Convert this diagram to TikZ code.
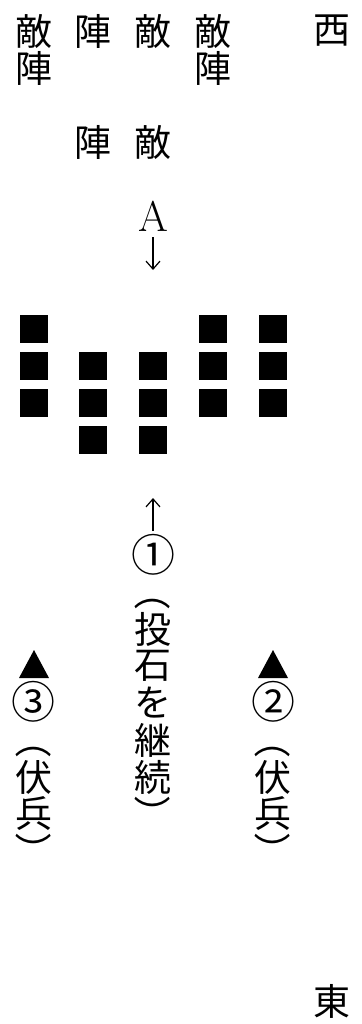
\documentclass[tikz,border=0pt]{standalone}
\usepackage{fontspec}
\newfontfamily\jpfont{Noto Sans CJK JP}
\usetikzlibrary{arrows.meta}
\tikzset{
  jch/.style={inner sep=0pt,font=\jpfont\fontsize{37}{37}\selectfont},
  jnum/.style={inner sep=0pt,font=\jpfont\fontsize{44}{44}\selectfont},
  jparen/.style={jch,rotate=-90},
  blk/.style={fill=black,minimum size=28pt,inner sep=0pt},
  latin/.style={inner sep=0pt,font=\fontsize{43}{43}\selectfont},
  thrust/.style={-{Straight Barb[length=8pt,width=14pt]},line width=1.2pt},
}

\begin{document}
\begin{tikzpicture}[x=1pt,y=-1pt]
  \useasboundingbox (0,0) rectangle (361,1024);
  % compass
  \node[jch] (west) at (332,31) {西};
  \node[jch] (east) at (332,1001) {東};
  % enemy camp labels
  \node[jch] (lab1a) at (34,31) {敵};
  \node[jch] (lab1b) at (34,68) {陣};
  \node[jch] (lab2a) at (93,31) {陣};
  \node[jch] (lab2b) at (93,142) {陣};
  \node[jch] (lab3a) at (153,31) {敵};
  \node[jch] (lab3b) at (153,142) {敵};
  \node[jch] (lab4a) at (213,31) {敵};
  \node[jch] (lab4b) at (213,68) {陣};
  % point A
  \node[latin] (ptA) at (153,216) {A};
  \coordinate (dnA) at (153,237);
  \coordinate (dnB) at (153,270);
  \draw[thrust] (dnA) -- (dnB);
  % formation
  \foreach \k/\cx/\off in {1/34/0,2/93/1,3/153/1,4/213/0,5/273/0}
    \foreach \j in {1,2,3}
      \node[blk] (sq\k-\j) at (\cx,{329+37*(\j-1+\off)}) {};
  % force 1
  \coordinate (upA) at (153,531);
  \coordinate (upB) at (153,498);
  \draw[thrust] (upA) -- (upB);
  \node[jnum] (f1) at (153,555) {①};
  \node[jparen] (f1open) at (153,592) {（};
  \foreach \c [count=\i from 0] in {投,石,を,継,続}
    \node[jch] (f1t\i) at (153,{629+37*\i}) {\c};
  \node[jparen] (f1close) at (153,814) {）};
  % ambush 3 and 2
  \foreach \cx/\num/\nm in {34/③/three,273/②/two}{
    \fill (\cx,650) -- ++(15,28) -- ++(-30,0) -- cycle;
    \node[jnum] (num\nm) at (\cx,702) {\num};
    \node[jparen] (open\nm) at (\cx,740) {（};
    \node[jch] (fa\nm) at (\cx,777) {伏};
    \node[jch] (fb\nm) at (\cx,814) {兵};
    \node[jparen] (close\nm) at (\cx,851) {）};
  }
\end{tikzpicture}
\end{document}
